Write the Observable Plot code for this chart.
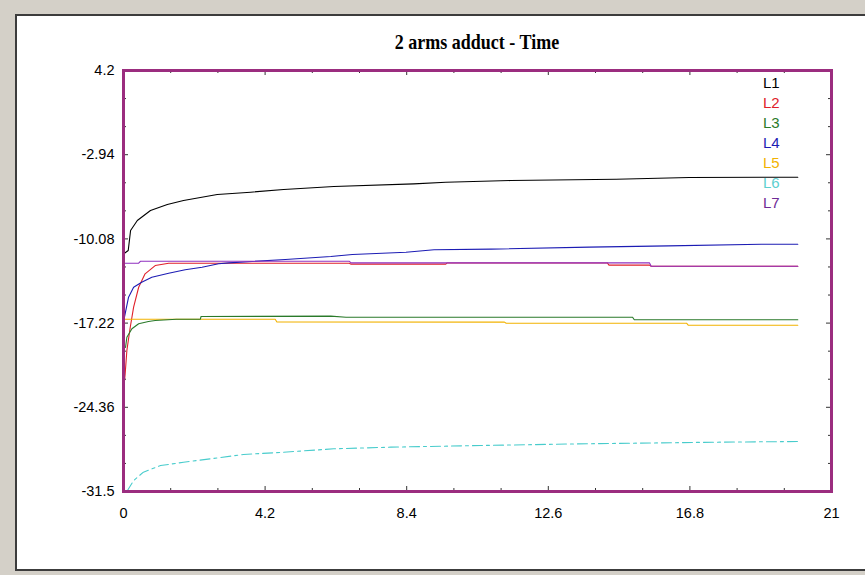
<!DOCTYPE html>
<html>
<head>
<meta charset="utf-8">
<script src="https://cdn.jsdelivr.net/npm/d3@7"></script>
<script src="https://cdn.jsdelivr.net/npm/@observablehq/plot@0.6"></script>
<style>
  html, body { margin: 0; padding: 0; }
  body { width: 865px; height: 575px; background: #d4d0c8; position: relative; overflow: hidden; font-family: Arial, "Liberation Sans", sans-serif; }
  #panel { position: absolute; left: 15px; top: 14px; width: 852px; height: 553px; background: #fff;
           border-left: 2px solid #3c3c3c; border-top: 2px solid #3c3c3c; border-bottom: 2px solid #3c3c3c; }
  #chart { position: absolute; left: 17px; top: 16px; }
  #title { position: absolute; left: 327px; width: 300px; top: 33px; text-align: center;
           font-family: "Liberation Serif", "Times New Roman", serif; font-weight: bold; font-size: 18px; line-height: 18px; color: #000;
           transform: scaleY(1.15); transform-origin: 50% 50%; }
  #legend { position: absolute; left: 763px; top: 73px; font-family: Arial, "Liberation Sans", sans-serif; font-size: 15px; line-height: 20px; }
</style>
</head>
<body>
<div id="panel"></div>
<div id="chart"></div>
<div id="title">2 arms adduct - Time</div>
<div id="legend"></div>
<script>
// ---- data (time in x, value in y) ----
const seriesNames = ["L1", "L2", "L3", "L4", "L5", "L6", "L7"];
const seriesColors = ["#000000", "#e0202a", "#2a7a2a", "#1c1cb4", "#f2b200", "#48cccc", "#9030c0"];

const t1 = [0.03, 0.14, 0.21, 0.41, 0.80, 1.30, 1.78, 2.78, 3.77, 4.75, 6.24, 8.61, 9.56, 11.49, 14.61, 16.78, 20];
const v1 = [-11.3, -11.06, -9.37, -8.52, -7.67, -7.16, -6.82, -6.31, -6.12, -5.89, -5.64, -5.41, -5.27, -5.13, -5.02, -4.87, -4.85];

const t2 = [0.03, 0.05, 0.10, 0.20, 0.30, 0.45, 0.64, 0.94, 1.34, 6.70, 6.74, 9.56, 9.60, 14.35, 14.40, 15.60, 15.65, 20];
const v2 = [-22.1, -21.5, -19.54, -17.57, -15.87, -14.18, -13.04, -12.34, -12.14, -12.14, -12.22, -12.22, -12.12, -12.12, -12.30, -12.30, -12.40, -12.40];

const t3 = [0.06, 0.10, 0.25, 0.45, 0.74, 0.94, 1.57, 2.28, 2.30, 6.15, 6.60, 15.10, 15.15, 20];
const v3 = [-19.29, -18.42, -17.70, -17.28, -17.08, -17.00, -16.89, -16.89, -16.66, -16.63, -16.72, -16.72, -16.94, -16.94];

const t4 = [0.03, 0.15, 0.30, 0.54, 0.84, 1.34, 1.83, 2.33, 2.82, 3.12, 4.80, 6.15, 6.79, 8.38, 9.21, 10.9, 13.81, 16.16, 18.92, 20];
const v4 = [-16.7, -15.02, -14.18, -13.75, -13.33, -12.99, -12.70, -12.48, -12.19, -12.11, -11.83, -11.57, -11.40, -11.21, -11.00, -10.95, -10.78, -10.67, -10.53, -10.53];

const t5 = [0.05, 4.50, 4.55, 11.30, 11.35, 16.70, 16.75, 20];
const v5 = [-16.89, -16.89, -17.12, -17.14, -17.23, -17.23, -17.40, -17.40];

const t6 = [0.10, 0.30, 0.59, 1.10, 1.78, 2.58, 3.56, 4.75, 6.24, 7.93, 10.6, 13.48, 17.52, 20];
const v6 = [-31.5, -30.57, -29.86, -29.30, -29.02, -28.73, -28.36, -28.17, -27.88, -27.74, -27.60, -27.46, -27.32, -27.26];

const t7 = [0.05, 0.45, 0.50, 6.70, 6.75, 15.60, 15.65, 20];
const v7 = [-12.14, -12.14, -11.98, -11.98, -12.11, -12.11, -12.40, -12.40];

// ---- axis ticks ----
const xMajor = [0, 4.2, 8.4, 12.6, 16.8, 21];
const xLabels = ["0", "4.2", "8.4", "12.6", "16.8", "21"];
const xMinor = [1.4, 2.8, 5.6, 7, 9.8, 11.2, 14, 15.4, 18.2, 19.6];
const yMajor = [4.2, -2.94, -10.08, -17.22, -24.36, -31.5];
const yLabels = ["4.2", "-2.94", "-10.08", "-17.22", "-24.36", "-31.5"];
const yMinor = [1.82, -0.56, -5.32, -7.7, -12.46, -14.84, -19.6, -21.98, -26.74, -29.12];

// ---- build table ----
const ts = [t1, t2, t3, t4, t5, t6, t7];
const vs = [v1, v2, v3, v4, v5, v6, v7];
const series = seriesNames.map((name, k) => ({
  name, color: seriesColors[k],
  rows: ts[k].map((t, i) => ({t, v: vs[k][i], s: name}))
}));
const drawOrder = [0, 1, 4, 2, 3, 6, 5];

const W = 848, H = 552, ML = 106, MR = 34, MT = 54, MB = 77;
const iw = W - ML - MR, ih = H - MT - MB;
const tickCol = "#333";

const lineMarks = drawOrder.map(k => Plot.line(series[k].rows, {
  x: "t", y: "v", stroke: series[k].color, strokeWidth: 1.1,
  strokeDasharray: k === 5 ? "10,4,3,4" : null
}));

const chart = Plot.plot({
  width: W, height: H,
  marginLeft: ML, marginRight: MR, marginTop: MT, marginBottom: MB,
  style: {background: "transparent", fontFamily: "Arial, 'Liberation Sans', sans-serif", fontSize: "14px", color: "#000"},
  x: {domain: [0, 21], label: null},
  y: {domain: [-31.5, 4.2], label: null},
  marks: [
    Plot.axisY(yMajor, {tickSize: 0, tickPadding: 9, fontSize: 14.5, tickFormat: d => yLabels[yMajor.indexOf(d)], fill: "#000"}),
    Plot.axisX(xMajor, {tickSize: 0, tickPadding: 16, fontSize: 14.5, tickFormat: d => xLabels[xMajor.indexOf(d)], fill: "#000"}),
    ...lineMarks,
    Plot.tickY(yMajor, {stroke: tickCol, insetRight: iw - 5}),
    Plot.tickY(yMajor, {stroke: tickCol, insetLeft: iw - 5}),
    Plot.tickY(yMinor, {stroke: tickCol, insetRight: iw - 3}),
    Plot.tickY(yMinor, {stroke: tickCol, insetLeft: iw - 3}),
    Plot.tickX(xMajor, {stroke: tickCol, insetTop: ih - 5}),
    Plot.tickX(xMajor, {stroke: tickCol, insetBottom: ih - 5}),
    Plot.tickX(xMinor, {stroke: tickCol, insetTop: ih - 3}),
    Plot.tickX(xMinor, {stroke: tickCol, insetBottom: ih - 3}),
    Plot.frame({stroke: "#9b2d7f", strokeWidth: 3})
  ]
});
document.getElementById("chart").appendChild(chart);

const legend = document.getElementById("legend");
series.forEach(s => {
  const d = document.createElement("div");
  d.textContent = s.name;
  d.style.color = s.name === "L7" ? "#6e2a96" : (s.name === "L6" ? "#5ccfcf" : s.color);
  legend.appendChild(d);
});
</script>
</body>
</html>
